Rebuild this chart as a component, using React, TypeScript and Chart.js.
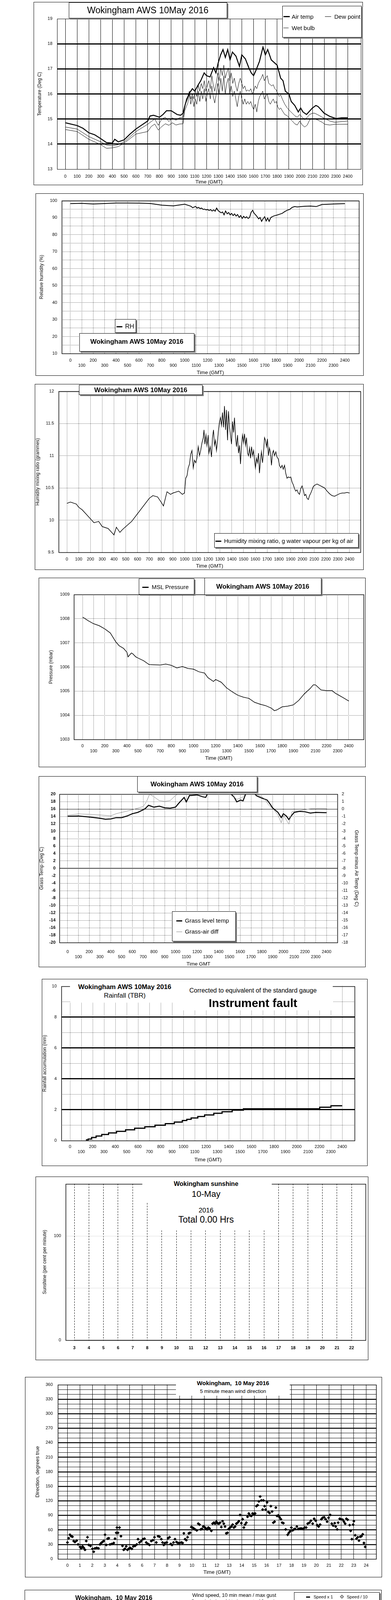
import React, { useEffect, useRef } from 'react';
import { Chart, registerables } from 'chart.js';

Chart.register(...registerables);

const FONT = "'Liberation Sans', Arial, Helvetica, sans-serif";
Chart.defaults.font.family = FONT;
Chart.defaults.color = '#000';

// ---------------- tick labels ----------------
const TIME_TICKS = [0, 100, 200, 300, 400, 500, 600, 700, 800, 900, 1000, 1100, 1200, 1300, 1400, 1500, 1600, 1700, 1800, 1900, 2000, 2100, 2200, 2300, 2400];
const HOUR_TICKS = [0, 1, 2, 3, 4, 5, 6, 7, 8, 9, 10, 11, 12, 13, 14, 15, 16, 17, 18, 19, 20, 21, 22, 23, 24];
const CLOCK_TICKS = [0, 1, 2, 3, 4, 5, 6, 7, 8, 9, 10, 11, 12, 13, 14, 15, 16, 17, 18, 19, 20, 21, 22, 23];
const SUN_HOUR_TICKS = [3, 4, 5, 6, 7, 8, 9, 10, 11, 12, 13, 14, 15, 16, 17, 18, 19, 20, 21, 22];
const TEMP_TICKS = [13, 14, 15, 16, 17, 18, 19];
const RH_TICKS = [10, 15, 20, 25, 30, 35, 40, 45, 50, 55, 60, 65, 70, 75, 80, 85, 90, 95, 100];
const MIX_TICKS = [9.5, 10, 10.5, 11, 11.5, 12];
const PRESSURE_TICKS = [1003, 1004, 1005, 1006, 1007, 1008, 1009];
const GRASS_TICKS = [-20, -18, -16, -14, -12, -10, -8, -6, -4, -2, 0, 2, 4, 6, 8, 10, 12, 14, 16, 18, 20];
const DIFF_TICKS = [-18, -17, -16, -15, -14, -13, -12, -11, -10, -9, -8, -7, -6, -5, -4, -3, -2, -1, 0, 1, 2];
const RAIN_TICKS = [0, 1, 2, 3, 4, 5, 6, 7, 8, 9, 10];
const SUN_TICKS = [0, 50, 100];
const DIR_TICKS = [0, 10, 20, 30, 40, 50, 60, 70, 80, 90, 100, 110, 120, 130, 140, 150, 160, 170, 180, 190, 200, 210, 220, 230, 240, 250, 260, 270, 280, 290, 300, 310, 320, 330, 340, 350, 360];
const SPEED_TICKS = [0, 5, 10, 15, 20, 25, 30, 35, 40, 45, 50];

// ---------------- chart 1: temperatures ----------------
const AIR_T = [0, 100, 150, 200, 250, 300, 350, 400, 420, 450, 500, 550, 600, 650, 700, 720, 750, 800, 830, 860, 900, 950, 980, 1000, 1020, 1050, 1080, 1100, 1130, 1150, 1180, 1200, 1230, 1260, 1280, 1300, 1320, 1340, 1360, 1380, 1400, 1420, 1450, 1480, 1500, 1530, 1560, 1580, 1600, 1620, 1650, 1680, 1700, 1720, 1750, 1800, 1830, 1850, 1870, 1900, 1920, 1950, 1980, 2000, 2020, 2050, 2100, 2130, 2150, 2200, 2250, 2300, 2350, 2400];
const AIR_V = [14.85, 14.74, 14.63, 14.45, 14.37, 14.22, 14.06, 14.04, 14.19, 14.09, 14.17, 14.4, 14.6, 14.76, 14.92, 15.12, 15.15, 15.07, 15.18, 15.33, 15.33, 15.18, 15.15, 15.23, 15.6, 16.0, 16.21, 16.11, 16.37, 16.52, 16.84, 16.73, 16.68, 17.05, 16.84, 17.25, 17.56, 17.77, 17.46, 17.77, 17.36, 17.67, 17.51, 17.1, 17.56, 17.4, 17.04, 16.84, 16.73, 16.94, 17.3, 17.87, 17.56, 17.77, 17.36, 17.15, 16.63, 16.53, 16.11, 16.0, 15.7, 15.54, 15.28, 15.44, 15.28, 15.18, 15.44, 15.54, 15.49, 15.23, 15.1, 15.02, 15.05, 15.05];
// shared time base for wet bulb and dew point
const HUM_T = [
  0, 100, 200, 300, 350, 400, 450, 500, 600, 700, 730, 760, 790, 820, 850, 880, 910, 940, 970, 1000,
  1015, 1028, 1041, 1054, 1066, 1079, 1092, 1104, 1117, 1130, 1143, 1155, 1168, 1181, 1194, 1206, 1219, 1232, 1245, 1257,
  1270, 1283, 1296, 1308, 1321, 1334, 1347, 1359, 1372, 1385, 1398, 1410, 1423, 1436, 1449, 1461, 1474, 1487, 1500, 1512,
  1525, 1538, 1551, 1563, 1576, 1589, 1601, 1614, 1627, 1640, 1652, 1665, 1678, 1691, 1703, 1716, 1729, 1742, 1754, 1767,
  1780, 1793, 1805, 1818, 1831, 1844, 1865, 1886, 1907, 1929, 1950, 1971, 1992, 2014, 2035, 2056, 2077, 2099, 2120, 2141,
  2162, 2183, 2205, 2247, 2290, 2332, 2400,
];
const WET_V = [
  14.68, 14.6, 14.3, 14.09, 13.96, 13.93, 13.98, 14.09, 14.5, 14.79, 14.9, 15.0, 14.75, 15.0, 15.07, 14.9, 15.05, 14.95, 15.05, 15.07,
  15.44, 15.8, 15.9, 16.11, 15.8, 16.0, 15.8, 16.16, 15.9, 16.37, 16.11, 16.42, 16.21, 16.53, 16.11, 16.32, 16.53, 16.21, 16.73, 16.37,
  16.11, 16.42, 16.84, 16.53, 17.04, 16.73, 17.15, 16.63, 16.84, 17.04, 16.53, 16.84, 16.42, 16.63, 16.32, 16.11, 16.42, 16.63, 16.42, 16.21,
  16.32, 16.11, 16.16, 16.11, 16.21, 16.0, 16.11, 16.32, 16.21, 16.42, 16.53, 16.63, 16.78, 16.53, 16.63, 16.73, 16.42, 16.37, 16.32, 16.37,
  16.21, 16.16, 16.0, 15.9, 15.96, 15.8, 15.59, 15.44, 15.33, 15.23, 15.13, 15.07, 15.18, 15.07, 14.97, 15.07, 15.18, 15.23, 15.23, 15.18,
  15.13, 15.07, 15.02, 14.92, 14.87, 14.89, 14.92,
];
const DEW_V = [
  14.58, 14.5, 14.19, 13.98, 13.83, 13.85, 13.9, 14.04, 14.4, 14.5, 14.7, 14.8, 14.56, 14.7, 14.81, 14.75, 14.85, 14.76, 14.8, 14.81,
  15.33, 15.49, 15.64, 16.0, 15.59, 15.9, 15.49, 15.8, 15.59, 16.11, 15.7, 16.11, 15.8, 16.21, 15.7, 16.0, 16.21, 15.8, 16.32, 15.9,
  15.64, 16.0, 16.42, 16.0, 16.63, 16.11, 16.73, 16.0, 16.42, 16.63, 16.0, 16.32, 15.9, 16.11, 15.8, 15.49, 15.9, 16.11, 15.8, 15.59,
  15.8, 15.59, 15.7, 15.59, 15.7, 15.49, 15.38, 15.59, 15.28, 15.7, 15.9, 16.0, 16.11, 15.8, 15.9, 16.0, 15.7, 15.59, 15.7, 15.8,
  15.64, 15.7, 15.49, 15.38, 15.44, 15.33, 15.18, 15.13, 15.02, 14.92, 14.81, 14.76, 14.92, 14.76, 14.68, 14.76, 14.97, 15.02, 15.0, 14.97,
  14.92, 14.87, 14.79, 14.76, 14.79, 14.79, 14.79,
];

// ---------------- chart 2: relative humidity ----------------
const RH_T = [
  0, 100, 200, 300, 400, 500, 600, 700, 800, 900, 1000,
  1043, 1056, 1069, 1082, 1095, 1108, 1121, 1135, 1148, 1161, 1174, 1187, 1200, 1213, 1226, 1239, 1253, 1266, 1279, 1292,
  1305, 1318, 1331, 1344, 1357, 1371, 1384, 1397, 1410, 1423, 1436, 1449, 1462, 1476, 1489, 1502, 1515, 1528, 1541, 1554,
  1567, 1580, 1594, 1607, 1620, 1633, 1646, 1659, 1672, 1685, 1699, 1712, 1725, 1738, 1751, 1764, 1777, 1790,
  1808, 1830, 1852, 1873, 1895, 1917, 1939, 1961, 1983, 2050, 2100, 2150, 2200, 2300, 2400,
];
const RH_V = [
  98.25, 98.4, 98.0, 98.3, 98.6, 98.6, 98.5, 98.3, 97.3, 96.9, 97.9,
  96.95, 96.6, 95.8, 96.2, 96.6, 95.6, 96.0, 95.3, 95.6, 94.8, 95.0, 94.5, 94.8, 94.2, 94.7, 93.9, 94.5, 93.8, 95.6, 94.1,
  93.5, 92.8, 93.3, 91.6, 93.9, 92.2, 93.0, 91.6, 92.5, 91.2, 92.2, 90.9, 91.8, 90.1, 91.2, 89.5, 90.8, 89.8, 90.5, 89.5,
  90.1, 93.1, 94.3, 92.5, 91.6, 90.5, 89.3, 90.1, 87.8, 89.3, 90.5, 88.0, 89.7, 87.8, 89.9, 90.5, 90.9, 91.2,
  91.5, 92.0, 92.5, 93.5, 94.3, 94.8, 96.0, 96.5, 96.3, 96.7, 96.8, 96.5, 97.7, 98.0, 98.25,
];

// ---------------- chart 3: mixing ratio ----------------
const MIX_T = [
  0, 30, 80, 100, 130, 170, 200, 230, 270, 300, 350, 380, 400, 420, 450, 470, 500, 550, 600, 650,
  700, 730, 770, 800, 820, 850, 880, 900, 950, 980,
  998, 1009, 1020, 1030, 1041, 1051, 1062, 1073, 1083, 1094, 1104, 1115, 1126, 1136, 1147, 1158,
  1164, 1172, 1181, 1189, 1200, 1206, 1217, 1228, 1236, 1245, 1253, 1262, 1270, 1279, 1287, 1296, 1304, 1313, 1321, 1330,
  1338, 1347, 1355, 1364, 1372, 1381, 1389, 1398, 1406, 1415, 1423, 1432, 1440, 1449, 1457, 1466, 1474, 1483, 1491, 1500,
  1508, 1517, 1525, 1534, 1542, 1551, 1559, 1568, 1576, 1585, 1593, 1601, 1610, 1618, 1627, 1635, 1644, 1652, 1661, 1669,
  1678, 1686, 1695, 1703, 1712, 1720, 1729, 1737, 1746, 1754, 1763, 1774, 1784, 1795, 1805, 1816, 1827, 1837, 1848, 1858,
  1869, 1880, 1890, 1901, 1912, 1922, 1933, 1943, 1954, 1965, 1975, 1986, 1997, 2007, 2018, 2028, 2039, 2050, 2060, 2071,
  2082, 2092, 2103, 2113, 2124, 2145, 2166, 2188, 2209, 2230, 2251, 2273, 2294, 2315, 2336, 2357, 2379, 2400,
];
const MIX_V = [
  10.26, 10.28, 10.25, 10.2, 10.16, 10.08, 10.02, 9.96, 9.98, 9.9, 9.87, 9.81, 9.77, 9.89, 9.81, 9.85, 9.9, 9.98, 10.1, 10.22,
  10.34, 10.38, 10.36, 10.28, 10.22, 10.44, 10.4, 10.42, 10.45, 10.4,
  10.42, 10.65, 10.69, 10.81, 10.87, 11.02, 11.08, 10.81, 10.93, 10.89, 10.96, 11.14, 11.0, 11.08, 11.2, 11.28,
  11.4, 11.18, 11.32, 11.16, 11.32, 11.04, 11.14, 10.98, 11.28, 11.4, 11.16, 11.24, 11.08, 11.22, 11.4, 11.53, 11.59, 11.47, 11.67, 11.44,
  11.77, 11.4, 11.71, 11.24, 11.69, 11.44, 11.32, 11.18, 11.53, 11.36, 11.59, 11.28, 11.14, 11.32, 11.04, 11.16, 10.87, 11.16, 11.32, 11.2,
  11.34, 11.16, 11.28, 11.04, 11.0, 11.12, 10.96, 11.14, 11.0, 11.08, 10.93, 10.81, 10.96, 10.89, 11.04, 10.73, 10.93, 11.06, 10.89, 11.04,
  11.28, 11.24, 11.14, 11.26, 11.0, 11.12, 11.04, 10.85, 11.04, 11.08, 11.0, 11.06, 10.98, 10.95, 10.85, 10.81, 10.85, 10.79, 10.85, 10.73,
  10.65, 10.67, 10.66, 10.67, 10.59, 10.55, 10.49, 10.45, 10.47, 10.42, 10.4, 10.49, 10.53, 10.47, 10.38, 10.4, 10.34, 10.32, 10.38, 10.42,
  10.47, 10.52, 10.54, 10.55, 10.56, 10.54, 10.52, 10.5, 10.45, 10.41, 10.38, 10.37, 10.39, 10.41, 10.42, 10.42, 10.43, 10.42,
];

// ---------------- chart 4: MSL pressure ----------------
const PRES_T = [0, 30, 50, 100, 150, 200, 250, 300, 330, 370, 400, 410, 440, 450, 480, 500, 550, 600, 700, 750, 800, 850, 900, 950, 1000, 1050, 1100, 1130, 1180, 1200, 1250, 1300, 1350, 1400, 1450, 1500, 1550, 1600, 1650, 1700, 1730, 1750, 1800, 1850, 1900, 1950, 2000, 2050, 2080, 2100, 2150, 2200, 2250, 2280, 2300, 2350, 2400];
const PRES_V = [1008.07, 1007.98, 1007.92, 1007.79, 1007.71, 1007.58, 1007.41, 1007.04, 1006.88, 1006.77, 1006.61, 1006.42, 1006.58, 1006.56, 1006.42, 1006.37, 1006.26, 1006.1, 1006.08, 1006.12, 1006.07, 1005.96, 1006.02, 1005.94, 1005.91, 1005.8, 1005.75, 1005.56, 1005.4, 1005.48, 1005.37, 1005.13, 1004.97, 1004.83, 1004.75, 1004.7, 1004.54, 1004.46, 1004.4, 1004.3, 1004.19, 1004.22, 1004.35, 1004.38, 1004.43, 1004.62, 1004.89, 1005.1, 1005.26, 1005.26, 1005.05, 1005.02, 1005.02, 1004.91, 1004.86, 1004.73, 1004.59];

// ---------------- chart 5: grass temperature ----------------
const GRASS_T = [0, 100, 200, 300, 350, 400, 450, 500, 550, 600, 650, 700, 720, 750, 800, 850, 900, 950, 1000, 1030, 1080, 1100, 1130, 1150, 1200, 1250, 1280, 1300, 1350, 1400, 1450, 1500, 1545, 1568, 1603, 1626, 1650, 1700, 1754, 1800, 1850, 1880, 1900, 1950, 1980, 2000, 2030, 2050, 2070, 2100, 2150, 2200, 2250, 2300, 2400];
const GRASS_V = [14.02, 14.1, 13.85, 13.5, 13.25, 13.32, 13.67, 13.67, 14.1, 14.73, 15.08, 15.78, 16.13, 17.0, 16.49, 16.77, 16.31, 16.2, 16.49, 17.54, 19.12, 17.9, 19.65, 19.65, 19.8, 19.3, 19.12, 20.35, 21.0, 21.5, 21.0, 20.5, 19.12, 17.9, 18.4, 18.2, 20.0, 21.0, 19.5, 18.95, 18.4, 17.2, 16.3, 15.08, 13.67, 14.73, 14.03, 13.15, 14.03, 15.08, 15.36, 15.25, 14.9, 15.08, 15.0];
const DIFF_T = [0, 100, 200, 300, 400, 450, 500, 600, 700, 730, 760, 800, 850, 900, 950, 1000, 1050, 1100, 1200, 1300, 1400, 1500, 1520, 1570, 1620, 1660, 1700, 1760, 1800, 1830, 1860, 1900, 1950, 1980, 2000, 2050, 2080, 2100, 2150, 2200, 2250, 2300, 2400];
const DIFF_V = [-0.85, -0.67, -0.72, -0.81, -0.92, -0.63, -0.46, -0.11, 0.33, 0.95, 2.0, 1.65, 1.12, 1.03, 1.12, 1.82, 2.3, 2.6, 2.8, 2.9, 2.7, 2.4, 1.82, 1.3, 1.56, 2.2, 2.4, 1.9, 1.65, 1.3, 0.6, 0.07, -0.81, -1.87, -0.81, -2.05, -0.37, -0.28, -0.25, -0.08, 0.02, 0.07, 0.03];

// ---------------- chart 6: rainfall accumulation ----------------
const RAIN_T = [140, 160, 190, 230, 280, 340, 410, 490, 570, 660, 750, 840, 920, 990, 1030, 1068, 1127, 1187, 1268, 1341, 1430, 1529, 2202, 2301, 2400];
const RAIN_V = [0.05, 0.1, 0.2, 0.3, 0.4, 0.5, 0.6, 0.7, 0.8, 0.9, 1.0, 1.1, 1.2, 1.3, 1.38, 1.47, 1.56, 1.66, 1.77, 1.87, 1.97, 2.06, 2.16, 2.26, 2.26];

// ---------------- chart 7: sunshine ----------------
const SUN_HOURS = [3, 4, 5, 6, 7, 8, 9, 10, 11, 12, 13, 14, 15, 16, 17, 18, 19, 20, 21, 22];
const SUN_PCT = [0, 0, 0, 0, 0, 0, 0, 0, 0, 0, 0, 0, 0, 0, 0, 0, 0, 0, 0, 0];

// ---------------- chart 8: wind direction ----------------
const DIR_HOURS = [
  0.00, 0.10, 0.20, 0.30, 0.40, 0.50, 0.60, 0.74, 0.86, 1.01,
  1.11, 1.21, 1.31, 1.41, 1.51, 1.61, 1.71, 1.85, 2.01, 2.11,
  2.21, 2.35, 2.49, 2.61, 2.71, 2.81, 2.91, 3.02, 3.12, 3.22,
  3.32, 3.42, 3.56, 3.72, 3.82, 3.92, 3.98, 4.06, 4.18, 4.30,
  4.42, 4.52, 4.62, 4.72, 4.82, 4.92, 5.03, 5.17, 5.29, 5.43,
  5.57, 5.67, 5.79, 5.93, 6.07, 6.19, 6.33, 6.47, 6.59, 6.73,
  6.87, 6.99, 7.14, 7.28, 7.40, 7.54, 7.64, 7.74, 7.84, 7.98,
  8.08, 8.20, 8.30, 8.40, 8.52, 8.64, 8.76, 8.88, 9.01, 9.15,
  9.25, 9.35, 9.45, 9.55, 9.65, 9.75, 9.85, 9.95, 10.05, 10.15,
  10.25, 10.39, 10.51, 10.61, 10.71, 10.81, 10.91, 11.01, 11.12, 11.22,
  11.32, 11.42, 11.56, 11.66, 11.76, 11.86, 11.96, 12.06, 12.16, 12.26,
  12.36, 12.46, 12.56, 12.66, 12.76, 12.86, 12.96, 13.07, 13.17, 13.27,
  13.37, 13.47, 13.57, 13.67, 13.77, 13.87, 13.97, 14.07, 14.17, 14.27,
  14.37, 14.47, 14.57, 14.67, 14.77, 14.87, 14.97, 15.08, 15.18, 15.28,
  15.38, 15.48, 15.58, 15.68, 15.74, 15.84, 15.92, 16.04, 16.14, 16.24,
  16.34, 16.44, 16.54, 16.64, 16.74, 16.84, 16.94, 17.04, 17.15, 17.25,
  17.35, 17.53, 17.69, 17.79, 17.89, 17.99, 18.09, 18.19, 18.29, 18.43,
  18.55, 18.69, 18.81, 18.93, 19.06, 19.18, 19.30, 19.44, 19.56, 19.70,
  19.82, 19.94, 20.06, 20.18, 20.30, 20.40, 20.50, 20.62, 20.74, 20.86,
  20.98, 21.11, 21.23, 21.35, 21.47, 21.55, 21.67, 21.75, 21.87, 21.99,
  22.11, 22.21, 22.31, 22.41, 22.51, 22.67, 22.75, 22.85, 22.95, 23.01,
  23.12, 23.22, 23.32, 23.42, 23.52, 23.62, 23.72, 23.82, 23.92,
];
const DIR_DEG = [
  34, 43, 50, 47, 46, 37, 35, 38, 30, 25,
  22, 26, 23, 19, 37, 45, 29, 27, 21, 15,
  22, 23, 22, 30, 33, 35, 37, 50, 29, 42,
  43, 30, 31, 33, 42, 54, 65, 54, 65, 47,
  27, 19, 21, 26, 19, 21, 23, 21, 26, 27,
  30, 41, 34, 37, 41, 42, 34, 31, 29, 37,
  39, 45, 34, 47, 46, 41, 34, 29, 33, 34,
  43, 45, 31, 29, 34, 41, 35, 33, 33, 34,
  33, 53, 41, 39, 45, 53, 54, 66, 65, 63,
  61, 59, 73, 71, 61, 62, 67, 66, 63, 61,
  65, 63, 58, 73, 75, 73, 77, 74, 73, 75,
  66, 78, 73, 67, 53, 54, 62, 65, 67, 71,
  65, 67, 73, 75, 78, 91, 74, 82, 65, 71,
  75, 87, 94, 90, 89, 94, 93, 94, 109, 111,
  119, 129, 121, 102, 121, 109, 102, 117, 97, 95,
  109, 98, 75, 77, 106, 89, 90, 86, 82, 75,
  74, 61, 50, 54, 57, 65, 59, 61, 62, 67,
  62, 63, 63, 62, 65, 65, 73, 75, 79, 73,
  83, 79, 70, 67, 71, 82, 85, 86, 82, 77,
  85, 91, 73, 69, 74, 67, 61, 75, 83, 82,
  81, 77, 73, 83, 81, 70, 58, 41, 71, 78,
  49, 42, 45, 38, 46, 47, 51, 33, 25,
];

// ---------------- chart 9: wind speed ----------------
const MEAN_HOURS = [0, 0.5, 1, 1.5, 2, 2.5, 3, 3.5, 4, 4.5, 5, 5.5, 6, 6.3, 6.5, 6.8, 7, 7.5, 8, 8.5, 9, 9.5, 10, 10.5, 11, 11.5, 12, 12.5, 13, 13.3, 13.5, 14, 14.5, 14.8, 15, 15.2, 15.5, 16, 16.5, 17, 17.3, 17.5, 18, 18.5, 19, 19.5, 20, 20.5, 20.8, 21, 21.2, 21.5, 22, 22.5, 22.7, 23, 23.5, 24];
const MEAN_KT = [1.5, 1.95, 1.95, 1.6, 1.3, 1.95, 1.5, 1.7, 1.5, 1.95, 1.7, 2.2, 2.1, 3.3, 4.0, 2.9, 3.8, 4.2, 3.8, 4.2, 4.0, 3.3, 3.8, 4.4, 5.6, 4.4, 5.3, 4.9, 5.3, 6.0, 4.9, 5.8, 5.3, 6.9, 6.3, 4.0, 4.9, 4.4, 4.7, 4.9, 3.3, 4.9, 5.1, 5.3, 6.5, 4.9, 3.1, 3.3, 3.8, 2.4, 1.5, 2.2, 2.9, 3.1, 3.8, 1.3, 1.4, 1.1];
// max gust, one value per 10 minutes from 00:00 to 24:00
const GUST_KT = [
  3.2, 2.5, 3.5, 2.8, 4.3, 3.0,
  3.8, 2.5, 3.6, 2.2, 2.8, 2.0,
  2.5, 1.8, 2.2, 2.6, 1.9, 2.8,
  2.2, 3.0, 1.6, 2.6, 3.2, 2.4,
  4.5, 3.0, 2.2, 3.4, 2.0, 3.1,
  2.5, 1.2, 2.8, 3.6, 2.4, 4.2,
  4.5, 7.5, 5.0, 8.5, 5.5, 9.0,
  5.0, 8.0, 4.5, 9.5, 6.0, 7.5,
  10.3, 5.5, 8.5, 4.5, 9.0, 6.0,
  8.5, 4.5, 7.5, 5.0, 9.5, 6.0,
  7.0, 4.0, 9.0, 5.0, 8.5, 6.5,
  10.5, 5.5, 9.0, 4.5, 10.0, 6.0,
  8.5, 5.5, 10.5, 4.5, 9.5, 6.5,
  12.0, 6.0, 11.0, 5.5, 9.5, 7.0,
  11.5, 5.5, 10.0, 6.5, 13.7, 6.0,
  11.0, 4.5, 9.5, 6.0, 10.5, 5.0,
  8.5, 5.5, 10.5, 4.5, 9.0, 6.0,
  9.5, 4.0, 11.0, 5.5, 8.5, 6.0,
  12.5, 5.0, 11.5, 6.5, 10.0, 5.5,
  11.0, 6.0, 8.0, 4.5, 7.5, 5.5,
  7.0, 4.0, 6.5, 3.5, 5.5, 4.0,
  3.0, 6.0, 2.5, 7.8, 4.0, 5.0,
  4.5, 3.0, 5.5, 3.5, 6.0, 4.5,
  1.5, 2.5, 1.2, 2.8, 1.8, 3.0,
  2.8,
];
const X10_HOURS = [
  0.0, 0.1, 0.2, 0.3, 0.4, 0.5, 0.6, 0.7, 0.8, 0.9,
  1.0, 1.1, 1.2, 1.3, 1.4, 1.5, 1.6, 1.7, 1.8, 1.9,
  2.0, 2.1, 2.2, 2.3, 2.4, 2.5, 2.6, 2.7, 2.8, 2.9,
  3.0, 3.1, 3.2, 3.3, 3.4, 3.5, 3.6, 3.7, 3.8, 3.9,
  4.0, 4.1, 4.2, 4.3, 4.4, 4.5, 4.6, 4.7, 4.8, 4.9,
  5.0, 5.1, 5.2, 5.3, 5.4, 5.5, 5.6, 5.7, 5.8, 5.9,
  6.0, 6.1, 6.2, 6.3, 6.4, 6.5, 6.6, 6.7, 6.8, 6.9,
  7.0, 7.1, 7.2, 7.3, 7.4, 7.5, 7.6, 7.7, 7.8, 7.9,
  8.0, 8.1, 8.2, 8.3, 8.4, 8.5, 8.6, 8.7, 8.8, 8.9,
  9.0, 9.1, 9.2, 9.3, 9.4, 9.5, 9.6, 9.7, 9.8, 9.9,
  10.0, 10.1, 10.2, 10.3, 10.4, 10.5, 10.6, 10.7, 10.8, 10.9,
  10.93, 10.95, 11.8, 11.82, 11.84, 15.05, 15.07, 15.95, 16.0, 16.13, 16.6, 16.62, 16.76, 16.9,
  17.42, 17.44, 17.46, 17.5, 17.58, 17.62, 17.68, 17.72, 19.5, 19.55, 19.65, 19.68, 19.85, 19.88, 19.95, 19.98,
  20.0, 20.06, 20.11, 20.17, 20.22, 20.28, 20.33, 20.39, 20.44, 20.5, 20.56, 20.61, 20.67, 20.72, 20.78, 20.83, 20.89, 20.94,
  21.0, 21.06, 21.11, 21.17, 21.22, 21.28, 21.33, 21.39, 21.44,
  21.5, 21.55, 21.6, 21.62, 21.65, 21.7, 21.75, 21.8, 21.9, 21.95,
  22.0, 22.06, 22.11, 22.17, 22.22, 22.28, 22.33, 22.39, 22.44, 22.5,
  22.55, 22.6, 22.65, 22.7, 22.75, 22.8,
  23.0, 23.1, 23.2, 23.3, 23.4, 23.5, 23.6, 23.7, 23.8, 23.9,
];
const X10_VALUES = [
  16, 18, 15.5, 14, 15, 17, 18.5, 19, 20.5, 19.5,
  18, 17.5, 16.5, 15, 16, 18, 19, 17, 15, 13.5,
  14, 13, 12, 12.5, 15, 17, 18.5, 20, 19, 17,
  16, 15.5, 15, 13, 11.5, 12, 14, 15.5, 17.5, 20,
  22, 20, 16, 13.5, 13, 12.5, 15, 19, 22, 24,
  18, 13, 12.5, 14, 16, 20, 22.5, 21, 20, 21.5,
  24.5, 27, 30, 32, 31, 34, 37, 38.5, 39.5, 37,
  32, 29, 27.5, 34, 37, 38, 39.5, 38, 36.5, 39,
  39.5, 37, 35, 38, 36, 33.5, 37, 39, 38, 36,
  39, 38.5, 37, 33, 30, 29, 31, 28, 32, 36,
  35, 36, 39, 40, 37, 35, 39.5, 40, 38.5, 37.5,
  37.5, 35.5, 39.5, 38, 37, 38.5, 39.5, 39, 38.5, 40, 39, 37, 39.5, 40,
  40, 37, 35.5, 36, 33, 31.5, 38, 39.5, 40, 38, 36, 35, 39, 37, 40, 39,
  33, 31, 28, 26.5, 30, 32, 34, 36, 33, 31, 29, 27, 31, 37, 38, 36, 33, 29,
  31, 25, 22, 18, 15, 13.5, 20, 23, 21,
  25, 29.5, 39, 39.5, 34.5, 30, 35, 27, 26.5, 28,
  27, 28, 29.5, 30, 33, 36, 38, 37, 35, 31,
  27.5, 25, 23, 20, 17.5, 15,
  13, 12, 11.5, 13, 14, 15, 13.5, 12.5, 11.5, 13,
];

// ---------------- helpers ----------------
type Rect = { l: number; t: number; r: number; b: number };
type G = { w: number; dash: number[]; color?: string };
const DOT = [1, 2];

const pts = (xs: number[], ys: number[]) => {
  const n = Math.min(xs.length, ys.length);
  const out: { x: number; y: number }[] = [];
  for (let i = 0; i < n; i++) out.push({ x: xs[i], y: ys[i] });
  return out;
};

const plain = (v: number) => String(v);
const stagger = (v: number) => (Math.round(v / 100) % 2 === 1 ? ['', String(v)] : String(v));
const clock = (h: number) => {
  const s = (h < 10 ? '0' : '') + h + ':00';
  return h % 2 === 1 ? ['', s] : s;
};

function axis(o: {
  position: 'left' | 'right' | 'bottom';
  min: number; max: number; ticks: number[];
  label: (v: number) => string | string[];
  size: number; pad: number; font?: number; bold?: boolean;
  title?: string; titleSize?: number; titlePad?: number;
  grid?: (v: number) => G;
}) {
  const g = o.grid;
  return {
    type: 'linear',
    position: o.position,
    min: o.min,
    max: o.max,
    afterBuildTicks: (s: any) => { s.ticks = o.ticks.map((v) => ({ value: v })); },
    afterFit: (s: any) => { if (o.position === 'bottom') s.height = o.size; else s.width = o.size; },
    ticks: {
      autoSkip: false, maxRotation: 0, minRotation: 0, padding: o.pad, color: '#000',
      font: { family: FONT, size: o.font ?? 11, weight: o.bold ? 'bold' : 'normal', lineHeight: 1.2 },
      callback: (v: any) => o.label(Number(v)),
    },
    grid: g
      ? {
          display: true, drawTicks: false, drawOnChartArea: true,
          color: (c: any) => (c.tick ? g(c.tick.value).color ?? '#000' : '#000'),
          lineWidth: (c: any) => (c.tick ? g(c.tick.value).w : 0),
        }
      : { display: false, drawTicks: false },
    border: { display: false, dash: (c: any) => (g && c.tick ? g(c.tick.value).dash : []) },
    title: o.title
      ? {
          display: true, text: o.title, color: '#000',
          font: { family: FONT, size: o.titleSize ?? 12, lineHeight: 1.2 },
          padding: { top: o.titlePad ?? 0, bottom: o.titlePad ?? 0 },
        }
      : { display: false },
  };
}

const line = (data: any[], color: string, width: number, extra: any = {}) => ({
  type: 'line', data, borderColor: color, backgroundColor: color, borderWidth: width,
  pointRadius: 0, tension: 0, fill: false, ...extra,
});

const boxPlugin = (width: number) => ({
  id: 'plotBox',
  afterDraw(chart: any) {
    const { ctx, chartArea: a } = chart;
    ctx.save();
    ctx.strokeStyle = '#000';
    ctx.lineWidth = width;
    ctx.strokeRect(Math.round(a.left) + 0.5, Math.round(a.top) + 0.5, Math.round(a.right - a.left), Math.round(a.bottom - a.top));
    ctx.restore();
  },
});

function base(frame: Rect, plot: Rect, scales: any, rightAxis = false) {
  return {
    responsive: false, maintainAspectRatio: false, animation: false, devicePixelRatio: 1, events: [],
    layout: { padding: { left: 0, top: plot.t - frame.t, right: rightAxis ? 0 : frame.r - plot.r, bottom: 0 } },
    plugins: { legend: { display: false }, tooltip: { enabled: false }, title: { display: false } },
    scales,
  };
}

const solid = (w = 1): G => ({ w, dash: [] });
const dotted = (): G => ({ w: 1, dash: DOT });

// ---------------- panel layouts (page pixels) ----------------
const F1: Rect = { l: 86, t: 5, r: 928, b: 474 };
const P1: Rect = { l: 146, t: 48, r: 923, b: 433 };
const F2: Rect = { l: 91, t: 495, r: 930, b: 962 };
const P2: Rect = { l: 158, t: 513, r: 918, b: 905 };
const F3: Rect = { l: 89, t: 983, r: 930, b: 1459 };
const P3: Rect = { l: 150, t: 991, r: 922, b: 1414 };
const F4: Rect = { l: 99, t: 1479, r: 935, b: 1964 };
const P4: Rect = { l: 189, t: 1522, r: 930, b: 1893 };
const F5: Rect = { l: 99, t: 1987, r: 935, b: 2476 };
const P5: Rect = { l: 152, t: 2033, r: 863, b: 2413 };
const F6: Rect = { l: 107, t: 2506, r: 940, b: 2985 };
const P6: Rect = { l: 157, t: 2512, r: 907, b: 2920 };
const F7: Rect = { l: 91, t: 3012, r: 942, b: 3482 };
const P7: Rect = { l: 168, t: 3023, r: 935, b: 3431 };
const F8: Rect = { l: 64, t: 3525, r: 977, b: 4038 };
const P8: Rect = { l: 148, t: 3542, r: 962, b: 3991 };
const F9: Rect = { l: 63, t: 4070, r: 976, b: 4549 };
const P9: Rect = { l: 121, t: 4112, r: 970, b: 4479 };

type Spec = { frame: Rect; build: () => any };

const SPECS: Spec[] = [
  {
    frame: F1,
    build: () => ({
      type: 'line',
      data: { datasets: [
        line(pts(HUM_T, DEW_V), '#000', 1),
        line(pts(HUM_T, WET_V), '#000', 1),
        line(pts(AIR_T, AIR_V), '#000', 2.5),
      ] },
      options: base(F1, P1, {
        x: axis({ position: 'bottom', min: -70, max: 2512, ticks: TIME_TICKS, label: plain, size: F1.b - P1.b, pad: 12.4, grid: () => solid(1), title: 'Time (GMT)', titleSize: 13, titlePad: 0 }),
        y: axis({ position: 'left', min: 13, max: 19, ticks: TEMP_TICKS, label: plain, size: P1.l - F1.l, pad: 12, grid: (v) => ({ w: v > 13 && v < 19 ? 3 : 0, dash: [] }), title: 'Temperature (Deg C)', titlePad: 8.8 }),
      }),
      plugins: [boxPlugin(1)],
    }),
  },
  {
    frame: F2,
    build: () => ({
      type: 'line',
      data: { datasets: [line(pts(RH_T, RH_V), '#000', 2)] },
      options: base(F2, P2, {
        x: axis({ position: 'bottom', min: -75, max: 2523, ticks: TIME_TICKS, label: stagger, size: F2.b - P2.b, pad: 11.4, grid: dotted, title: 'Time (GMT)', titleSize: 13, titlePad: 0 }),
        y: axis({ position: 'left', min: 10, max: 100, ticks: RH_TICKS, label: (v) => (v % 10 === 0 ? String(v) : ''), size: P2.l - F2.l, pad: 12, grid: dotted, title: 'Relative humidity (%)', titlePad: 8.8 }),
      }),
      plugins: [boxPlugin(1.5)],
    }),
  },
  {
    frame: F3,
    build: () => ({
      type: 'line',
      data: { datasets: [line(pts(MIX_T, MIX_V), '#000', 1.5)] },
      options: base(F3, P3, {
        x: axis({ position: 'bottom', min: -70, max: 2493, ticks: TIME_TICKS, label: plain, size: F3.b - P3.b, pad: 11.4, grid: dotted, title: 'Time (GMT)', titleSize: 13, titlePad: 1.8 }),
        y: axis({ position: 'left', min: 9.5, max: 12, ticks: MIX_TICKS, label: plain, size: P3.l - F3.l, pad: 12, grid: dotted, title: 'Humidity mixing ratio (grammes)', titlePad: 0 }),
      }),
      plugins: [boxPlugin(1.5)],
    }),
  },
  {
    frame: F4,
    build: () => ({
      type: 'line',
      data: { datasets: [line(pts(PRES_T, PRES_V), '#000', 1.5)] },
      options: base(F4, P4, {
        x: axis({ position: 'bottom', min: -78, max: 2534, ticks: TIME_TICKS, label: stagger, size: F4.b - P4.b, pad: 10.4, grid: dotted, title: 'Time (GMT)', titleSize: 13, titlePad: 14.8 }),
        y: axis({ position: 'left', min: 1003, max: 1009, ticks: PRESSURE_TICKS, label: plain, size: P4.l - F4.l, pad: 11, grid: dotted, title: 'Pressure (mbar)', titlePad: 24.8 }),
      }),
      plugins: [boxPlugin(1.5)],
    }),
  },
  {
    frame: F5,
    build: () => ({
      type: 'line',
      data: { datasets: [
        line(pts(DIFF_T, DIFF_V), '#808080', 1, { yAxisID: 'y2' }),
        line(pts(GRASS_T, GRASS_V), '#000', 2.5, { yAxisID: 'y' }),
      ] },
      options: base(F5, P5, {
        x: axis({ position: 'bottom', min: -76, max: 2501, ticks: TIME_TICKS, label: stagger, size: F5.b - P5.b, pad: 17.4, grid: dotted, title: 'Time GMT', titleSize: 13, titlePad: 0 }),
        y: axis({ position: 'left', min: -20, max: 20, ticks: GRASS_TICKS, label: plain, bold: true, font: 11, size: P5.l - F5.l, pad: 10, grid: (v) => (v === 16 || v === 0 ? solid(v === 0 ? 1.5 : 1) : dotted()), title: 'Grass Temp (Deg C)', titlePad: 0.8 }),
        y2: axis({ position: 'right', min: -18, max: 2, ticks: DIFF_TICKS, label: plain, size: F5.r - P5.r, pad: 11, title: 'Grass Temp minus Air Temp (Deg C)', titlePad: 16.8 }),
      }, true),
      plugins: [boxPlugin(1.5)],
    }),
  },
  {
    frame: F6,
    build: () => ({
      type: 'line',
      data: { datasets: [line(pts(RAIN_T, RAIN_V), '#000', 3, { stepped: 'before' })] },
      options: base(F6, P6, {
        x: axis({ position: 'bottom', min: -76, max: 2510, ticks: TIME_TICKS, label: stagger, size: F6.b - P6.b, pad: 9.4, grid: dotted, title: 'Time (GMT)', titleSize: 13, titlePad: 7.8 }),
        y: axis({ position: 'left', min: 0, max: 10, ticks: RAIN_TICKS, label: (v) => (v % 2 === 0 ? String(v) : ''), size: P6.l - F6.l, pad: 12, grid: (v) => (v === 0 || v === 10 ? solid(0) : v % 2 === 0 ? solid(3) : dotted()), title: 'Rainfall accumulation (mm)', titlePad: 0 }),
      }),
      plugins: [boxPlugin(1.5)],
    }),
  },
  {
    frame: F7,
    build: () => ({
      type: 'line',
      data: { datasets: [line(pts(SUN_HOURS, SUN_PCT), '#000', 1)] },
      options: base(F7, P7, {
        x: axis({ position: 'bottom', min: 2.41, max: 22.96, ticks: SUN_HOUR_TICKS, label: plain, bold: true, font: 11, size: F7.b - P7.b, pad: 13.4, grid: () => ({ w: 1, dash: [4, 3] }) }),
        y: axis({ position: 'left', min: 0, max: 150, ticks: SUN_TICKS, label: (v) => (v === 50 ? '' : String(v)), size: P7.l - F7.l, pad: 12, grid: (v) => (v === 0 ? solid(0) : { w: 1, dash: DOT, color: '#999' }), title: 'Sunshine (per cent per minute)', titlePad: 16.8 }),
      }),
      plugins: [boxPlugin(1.5)],
    }),
  },
  {
    frame: F8,
    build: () => ({
      type: 'line',
      data: { datasets: [line(pts(DIR_HOURS, DIR_DEG), '#000', 0, { showLine: false, pointRadius: 4, pointStyle: 'rectRot', pointBackgroundColor: '#000', pointBorderColor: '#000', pointBorderWidth: 0 })] },
      options: base(F8, P8, {
        x: axis({ position: 'bottom', min: -0.77, max: 24.8, ticks: HOUR_TICKS, label: plain, size: F8.b - P8.b, pad: 10.4, grid: () => solid(1), title: 'Time (GMT)', titleSize: 13, titlePad: 4.8 }),
        y: axis({ position: 'left', min: 0, max: 360, ticks: DIR_TICKS, label: (v) => (v % 30 === 0 ? String(v) : ''), size: P8.l - F8.l, pad: 13, grid: (v) => (v === 0 || v === 360 ? solid(0) : v % 30 === 0 ? solid(2.5) : solid(1)), title: 'Direction, degrees true', titleSize: 13, titlePad: 24.8 }),
      }),
      plugins: [boxPlugin(1.5)],
    }),
  },
  {
    frame: F9,
    build: () => ({
      type: 'line',
      data: { datasets: [
        line(pts(GUST_KT.map((_, i) => i / 6), GUST_KT), '#4d4d4d', 1),
        line(pts(MEAN_HOURS, MEAN_KT), '#000', 2),
        line(pts(X10_HOURS, X10_VALUES), '#404040', 0, { showLine: false, pointRadius: 4.5, pointStyle: 'rectRot', pointBackgroundColor: '#c4c4c4', pointBorderColor: '#3a3a3a', pointBorderWidth: 1 }),
      ] },
      options: base(F9, P9, {
        x: axis({ position: 'bottom', min: -0.76, max: 25.35, ticks: CLOCK_TICKS, label: clock, font: 12, size: F9.b - P9.b, pad: 9.8, grid: dotted, title: 'Time (GMT)', titleSize: 14, titlePad: 12.8 }),
        y: axis({ position: 'left', min: 0, max: 50, ticks: SPEED_TICKS, label: (v) => (v % 10 === 0 ? String(v) : ''), font: 12, size: P9.l - F9.l, pad: 12, grid: dotted, title: 'Speed (knots)', titleSize: 14, titlePad: 4.8 }),
      }),
      plugins: [boxPlugin(1.5)],
    }),
  },
];

// ---------------- components ----------------
function ChartPanel({ spec }: { spec: Spec }) {
  const ref = useRef<HTMLCanvasElement | null>(null);
  useEffect(() => {
    if (!ref.current) return;
    const chart = new Chart(ref.current, spec.build());
    return () => chart.destroy();
  }, [spec]);
  const { frame } = spec;
  const w = frame.r - frame.l;
  const h = frame.b - frame.t;
  return (
    <div style={{ position: 'absolute', left: frame.l, top: frame.t, width: w, height: h, boxSizing: 'border-box', border: '1px solid #000', background: '#fff' }}>
      <canvas ref={ref} width={w} height={h} style={{ position: 'absolute', left: -1, top: -1, width: w, height: h, display: 'block' }} />
    </div>
  );
}

function Box({ l, t, r, b, border = true, shadow = true }: { l: number; t: number; r: number; b: number; border?: boolean; shadow?: boolean }) {
  return (
    <div style={{ position: 'absolute', left: l, top: t, width: r - l, height: b - t, boxSizing: 'border-box', background: '#fff', border: border ? '1px solid #000' : 'none', boxShadow: shadow ? '3px 3px 0 #808080' : 'none' }} />
  );
}

function T({ x, y, s, b, left, children }: { x: number; y: number; s: number; b?: boolean; left?: boolean; children: React.ReactNode }) {
  return (
    <div style={{ position: 'absolute', left: x, top: y, transform: left ? 'translateY(-50%)' : 'translate(-50%, -50%)', fontSize: s, fontWeight: b ? 'bold' : 'normal', whiteSpace: 'nowrap', lineHeight: 1, color: '#000', fontFamily: FONT }}>
      {children}
    </div>
  );
}

function Seg({ x1, x2, y, w, c = '#000' }: { x1: number; x2: number; y: number; w: number; c?: string }) {
  return <div style={{ position: 'absolute', left: x1, top: y - w / 2, width: x2 - x1, height: w, background: c }} />;
}

export default function App() {
  return (
    <div style={{ position: 'absolute', left: 0, top: 0, width: 1000, height: 4600, background: '#fff', fontFamily: FONT }}>
      {SPECS.map((s, i) => (
        <ChartPanel key={i} spec={s} />
      ))}

      {/* chart 1 */}
      <Box l={176} t={6} r={581} b={47} />
      <T x={378} y={26} s={23}>Wokingham AWS 10May 2016</T>
      <Box l={722} t={15} r={925} b={96} />
      <Seg x1={725} x2={741} y={42} w={3} />
      <T x={746} y={42} s={15} left>Air temp</T>
      <Seg x1={831} x2={847} y={42} w={1} />
      <T x={855} y={42} s={15} left>Dew point</T>
      <Seg x1={725} x2={738} y={71} w={1} />
      <T x={746} y={71} s={15} left>Wet bulb</T>

      {/* chart 2 */}
      <Box l={294} t={817} r={348} b={852} />
      <Seg x1={298} x2={313} y={836} w={3} />
      <T x={320} y={836} s={16} left>RH</T>
      <Box l={203} t={853} r={497} b={900} />
      <T x={350} y={874} s={17} b>Wokingham AWS 10May 2016</T>

      {/* chart 3 */}
      <Box l={202} t={985} r={518} b={1011} />
      <T x={360} y={998} s={17} b>Wokingham AWS 10May 2016</T>
      <Box l={548} t={1365} r={917} b={1402} />
      <Seg x1={551} x2={566} y={1385} w={3} />
      <T x={573} y={1384} s={15} left>Humidity mixing ratio, g water vapour per kg of air</T>

      {/* chart 4 */}
      <Box l={355} t={1481} r={497} b={1522} />
      <Seg x1={364} x2={380} y={1503} w={3} />
      <T x={388} y={1502} s={15} left>MSL Pressure</T>
      <Box l={523} t={1479} r={822} b={1523} />
      <T x={672} y={1501} s={17} b>Wokingham AWS 10May 2016</T>

      {/* chart 5 */}
      <Box l={351} t={1987} r={658} b={2028} />
      <T x={504} y={2007} s={17} b>Wokingham AWS 10May 2016</T>
      <Box l={440} t={2333} r={603} b={2410} />
      <Seg x1={451} x2={466} y={2357} w={3} />
      <T x={473} y={2356} s={15} left>Grass level temp</T>
      <Seg x1={451} x2={466} y={2385} w={1} c="#808080" />
      <T x={473} y={2384} s={15} left>Grass-air diff</T>

      {/* chart 6 */}
      <Box l={179} t={2508} r={461} b={2567} border={false} shadow={false} />
      <Box l={461} t={2514} r={851} b={2587} border={false} shadow={false} />
      <T x={319} y={2526} s={17} b>Wokingham AWS 10May 2016</T>
      <T x={319} y={2548} s={17}>Rainfall (TBR)</T>
      <T x={647} y={2536} s={16}>Corrected to equivalent of the standard gauge</T>
      <T x={647} y={2568} s={30} b>Instrument fault</T>

      {/* chart 7 */}
      <Box l={364} t={3018} r={695} b={3078} border={false} shadow={false} />
      <Box l={378} t={3078} r={676} b={3150} border={false} shadow={false} />
      <T x={527} y={3031} s={16} b>Wokingham sunshine</T>
      <T x={527} y={3057} s={22}>10-May</T>
      <T x={527} y={3098} s={17}>2016</T>
      <T x={527} y={3122} s={23}>Total 0.00 Hrs</T>

      {/* chart 8 */}
      <Box l={450} t={3527} r={741} b={3573} border={false} shadow={false} />
      <T x={596} y={3540} s={15} b>Wokingham,&nbsp; 10 May 2016</T>
      <T x={596} y={3561} s={13}>5 minute mean wind direction</T>

      {/* chart 9 */}
      <T x={291} y={4091} s={16} b>Wokingham,&nbsp; 10 May 2016</T>
      <T x={599} y={4083} s={13}>Wind speed, 10 min mean / max gust</T>
      <T x={599} y={4099} s={13}>Speeds below 4 kt shown at x10 scale</T>
      <Box l={752} t={4076} r={971} b={4100} />
      <Seg x1={783} x2={793} y={4088} w={3} />
      <T x={802} y={4088} s={11} left>Speed x 1</T>
      <div style={{ position: 'absolute', left: 871, top: 4084, width: 7, height: 7, transform: 'rotate(45deg)', background: '#c4c4c4', border: '1px solid #3a3a3a', boxSizing: 'border-box' }} />
      <T x={887} y={4088} s={11} left>Speed / 10</T>
    </div>
  );
}
